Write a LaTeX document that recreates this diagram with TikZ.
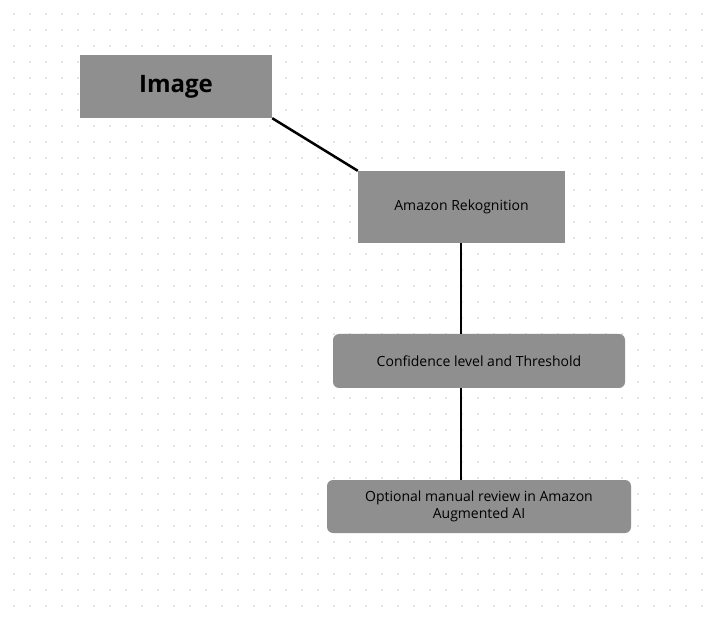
\documentclass[tikz,border=0pt]{standalone}
\usepackage{fontspec}
\setmainfont{Open Sans}
\begin{document}
\begin{tikzpicture}[x=1pt,y=-1pt,
  box/.style={fill=boxgray,draw=none,inner sep=0pt,align=center,font=\fontsize{14}{17}\selectfont},
  link/.style={line width=2.5pt,black}]
\definecolor{boxgray}{HTML}{8F8F8F}
\definecolor{dotgray}{HTML}{C8C8D0}
\useasboundingbox[fill=white] (0,0) rectangle (723,617);
\foreach \i in {0,...,43} \foreach \j in {0,...,37}
  \fill[dotgray] (14+16*\i,14+16*\j) circle (0.9);
\node[box,minimum width=192pt,minimum height=63pt,font=\fontsize{24}{28}\selectfont\bfseries] (img) at (176,86.5) {Image};
\node[box,minimum width=207pt,minimum height=72pt] (rek) at (461.5,207) {Amazon Rekognition};
\node[box,minimum width=292pt,minimum height=54pt,rounded corners=6pt] (conf) at (479,361) {Confidence level and Threshold};
\node[box,minimum width=304pt,minimum height=53pt,rounded corners=6pt] (opt) at (479,506.5) {Optional manual review in Amazon\\Augmented AI};
\draw[link] (img.south east) -- (rek.north west);
\draw[link] (461,243) -- (461,334);
\draw[link] (461,388) -- (461,480);
\end{tikzpicture}
\end{document}
